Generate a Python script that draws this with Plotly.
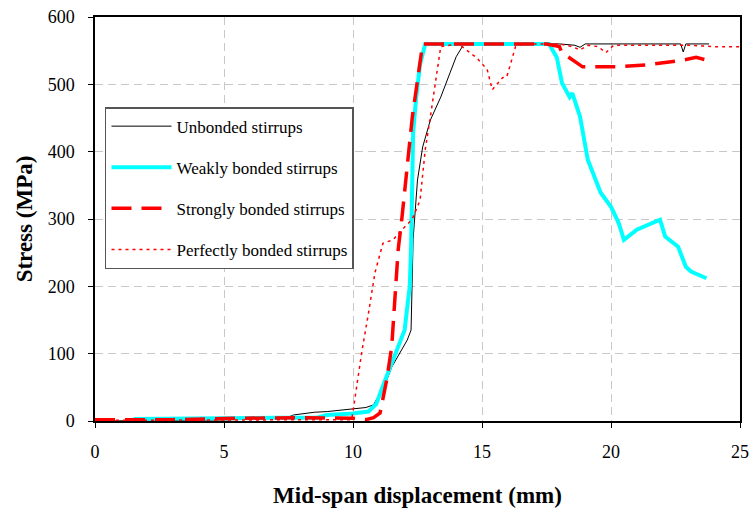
import plotly.graph_objects as go

# Unbonded stirrups (black thin)
unb_x = [0, 2, 4, 5.5, 6.5, 7.5, 7.7, 8.5, 9.0, 9.5, 10.0, 10.5, 10.8, 11.05, 11.3, 11.5, 11.8, 12.1,
         12.25, 12.33, 12.5, 12.7, 13.0, 13.4, 13.76, 14.0, 14.3, 15, 16, 17, 18, 18.6, 18.8, 19.0,
         20, 21, 22, 22.7, 22.8, 22.9, 23.8]
unb_y = [0, 0, 1, 2, 4, 6, 9, 13, 14, 16, 18, 20, 24, 42, 60, 80, 100, 120,
         135, 270, 358, 407, 447, 481, 517, 541, 560, 560, 560, 560, 560, 558, 555, 560,
         560, 560, 560, 560, 548, 560, 560]

# Weakly bonded stirrups (cyan thick)
weak_x = [1.5, 3, 5, 7, 8.6, 9.0, 10.0, 10.6, 10.9, 11.2, 11.55, 12.0, 12.2, 12.25, 12.33, 12.44, 12.6,
          12.8, 14, 15, 16, 17, 17.6, 17.9, 18.1, 18.4, 18.5, 18.8, 18.9, 19.1, 19.6, 20.0, 20.3,
          20.5, 21.0, 21.5, 21.9, 22.1, 22.6, 22.9, 23.1, 23.7]
weak_y = [3, 3, 4, 5, 5, 9, 11, 14, 25, 56, 90, 135, 200, 254, 428, 477, 530,
          560, 560, 560, 560, 560, 560, 540, 502, 481, 487, 452, 428, 388, 339, 318, 294,
          269, 284, 292, 299, 274, 259, 229, 222, 212]

# Strongly bonded stirrups (red dashed)
strong_x = [0, 3, 5.5, 8, 10.0, 10.5, 10.8, 11.05, 11.3, 11.5, 11.75, 11.9, 12.3, 12.5, 12.7, 15,
            17.5, 18.0, 18.1, 18.9, 19.8, 20.2, 21.4, 22.0, 22.8, 23.3, 23.8]
strong_y = [2, 2, 4, 5, 4, 2, 5, 12, 60, 110, 254, 303, 452, 502, 560, 560,
            560, 556, 547, 526, 526, 526, 529, 532, 536, 540, 535]

# Perfectly bonded stirrups (red dotted)
perf_x = [0, 5, 9.95, 10.05, 10.35, 10.6, 10.85, 11.16, 11.55, 11.9, 12.3, 12.6, 12.8, 13.0, 13.2,
          13.4, 14.1, 14.8, 15.2, 15.4, 15.8, 15.96, 16.3, 16.6, 18.0, 18.5, 18.8, 19.1, 19.5,
          19.8, 20.1, 21, 22, 23, 24, 25]
perf_y = [1, 1, 2, 27, 105, 160, 220, 264, 269, 284, 300, 328, 403, 452, 502,
          556, 560, 539, 522, 492, 510, 511, 556, 560, 560, 556, 551, 558, 556,
          547, 558, 558, 558, 558, 556, 556]

x_ticks = [0, 5, 10, 15, 20, 25]
y_ticks = [0, 100, 200, 300, 400, 500, 600]

SERIF = "Liberation Serif, Times New Roman, serif"

fig = go.Figure()
fig.add_trace(go.Scatter(x=unb_x, y=unb_y, mode="lines", name="Unbonded stirrups",
                         legendgroup="a", line=dict(color="black", width=1)))
fig.add_trace(go.Scatter(x=weak_x, y=weak_y, mode="lines", name="Weakly bonded stirrups",
                         legendgroup="b", line=dict(color="#00FFFF", width=4)))
fig.add_trace(go.Scatter(x=strong_x, y=strong_y, mode="lines", name="Strongly bonded stirrups",
                         legendgroup="c", line=dict(color="#FF0000", width=3.5, dash="20px,10px")))
fig.add_trace(go.Scatter(x=perf_x, y=perf_y, mode="lines", name="Perfectly bonded stirrups",
                         legendgroup="d", line=dict(color="#FF0000", width=1.5, dash="3px,4px")))

axis_font = dict(family=SERIF, size=18, color="black")
fig.update_layout(
    width=755, height=510,
    margin=dict(l=95, r=15, t=17, b=89),
    paper_bgcolor="white", plot_bgcolor="white",
    font=dict(family=SERIF, color="black"),
    legend=dict(x=0.0155, y=0.777, xanchor="left", yanchor="top",
                bgcolor="white", bordercolor="#555555", borderwidth=1.5,
                font=dict(family=SERIF, size=17, color="black"),
                itemwidth=60,
                tracegroupgap=16, traceorder="grouped"),
    showlegend=True,
)
fig.update_xaxes(range=[0, 25], tickvals=x_ticks, ticks="outside", ticklen=5, tickcolor="black",
                 showline=True, linecolor="black", linewidth=1.5, mirror=True,
                 showgrid=True, gridcolor="#c8c8c8", griddash="8px,5px", gridwidth=1,
                 zeroline=False, tickfont=axis_font, automargin=False, ticklabelstandoff=9,
                 title=dict(text="<b>Mid-span displacement (mm)</b>", standoff=26,
                            font=dict(family=SERIF, size=23, color="black")))
fig.update_yaxes(range=[0, 600], tickvals=y_ticks, ticks="outside", ticklen=5, tickcolor="black",
                 showline=True, linecolor="black", linewidth=1.5, mirror=True,
                 showgrid=True, gridcolor="#c8c8c8", griddash="8px,5px", gridwidth=1,
                 zeroline=False, tickfont=axis_font, automargin=False, ticklabelstandoff=10,
                 title=dict(text="<b>Stress (MPa)</b>", standoff=9,
                            font=dict(family=SERIF, size=23, color="black")))

fig.write_html("out.html")
